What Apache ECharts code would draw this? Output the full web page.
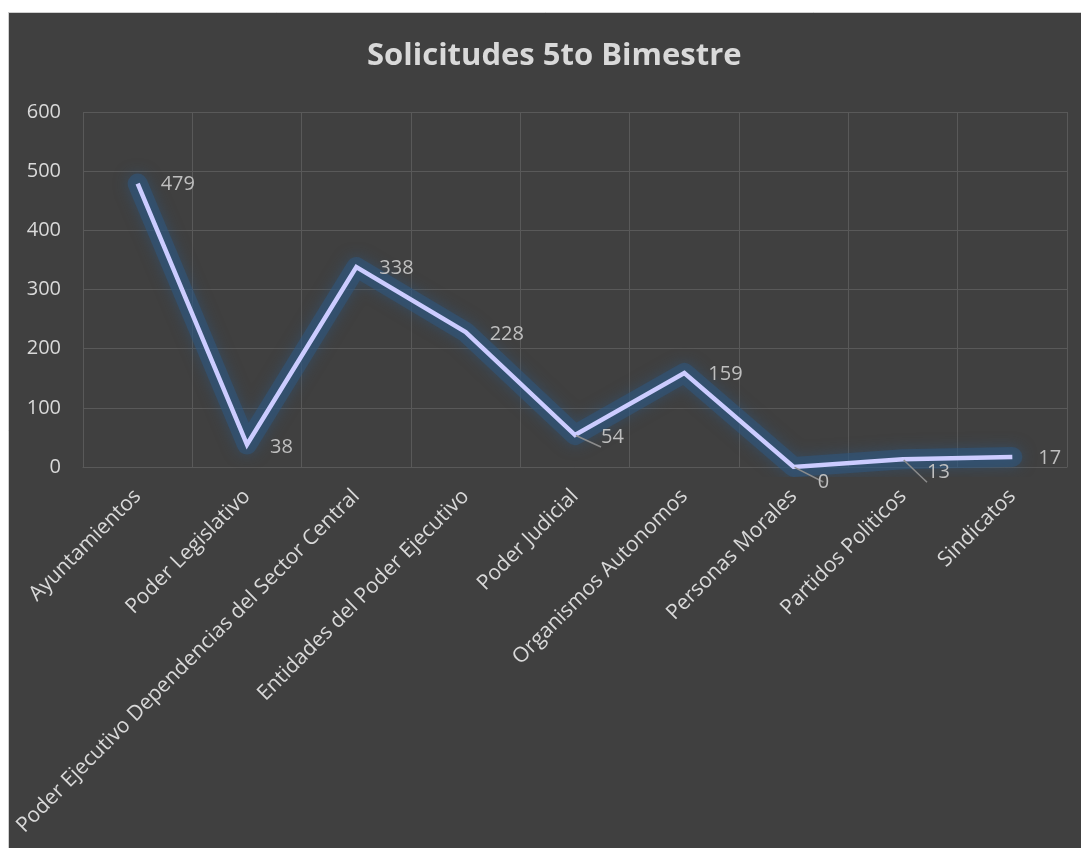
<!DOCTYPE html>
<html><head><meta charset="utf-8">
<script src="https://cdn.jsdelivr.net/npm/echarts@6/dist/echarts.min.js"></script>
<style>html,body{margin:0;padding:0;background:#fff;}#c{width:1081px;height:848px;}</style>
</head><body><div id="c"></div>
<script>
const titleText = 'Solicitudes 5to Bimestre';
const categories = ['Ayuntamientos','Poder Legislativo','Poder Ejecutivo Dependencias del Sector Central','Entidades del Poder Ejecutivo','Poder Judicial','Organismos Autonomos','Personas Morales','Partidos Politicos','Sindicatos'];
const values = [479, 38, 338, 228, 54, 159, 0, 13, 17];
const yTicks = [0, 100, 200, 300, 400, 500, 600];

// label placement styles (offset from each point) and leader-line flags
const labelOffsets = [[17,1],[17,3],[17,1],[18,2],[20,2],[18,1],[18,15],[18,13],[20,1]];
const leader = [false,false,false,false,true,false,true,true,false];

const FONT = '"Open Sans", sans-serif';
const chart = echarts.init(document.getElementById('c'), null, {renderer:'canvas'});
const data = values.map((v,i)=>({
  value: v,
  label: {show:true, position:'right', offset: labelOffsets[i]},
  labelLine: {show: leader[i], lineStyle:{color:'#8c8c8c', width:1.5}}
}));
chart.setOption({
  backgroundColor: 'transparent',
  animation: false,
  graphic: [{type:'rect', z:-10, silent:true, shape:{x:8.5,y:12.5,width:1100,height:900},
    style:{fill:'#404040', stroke:'#cfcfcf', lineWidth:1}}],
  title: {text: titleText, left: 362, top: 36,
    textStyle:{color:'#d9d9d9', fontFamily: FONT, fontWeight:'bold', fontSize:31}},
  grid: {left:83, right:14, top:112, bottom:381, containLabel:false},
  xAxis: {type:'category', data: categories, boundaryGap:true,
    axisLine:{show:true, lineStyle:{color:'#595959', width:1}},
    axisTick:{show:false},
    splitLine:{show:true, lineStyle:{color:'#595959', width:1}},
    axisLabel:{rotate:45, interval:0, margin:26, color:'#d9d9d9', fontFamily:FONT, fontSize:21}},
  yAxis: {type:'value', min:yTicks[0], max:yTicks[yTicks.length-1], interval:100,
    axisLine:{show:false}, axisTick:{show:false},
    splitLine:{show:true, lineStyle:{color:'#595959', width:1}},
    axisLabel:{margin:22, color:'#d9d9d9', fontFamily:FONT, fontSize:20}},
  series: [
    {type:'line', data: values, symbol:'none', silent:true, z:1,
      lineStyle:{color:'rgba(45,88,130,0.5)', width:20, cap:'round', join:'round',
        shadowBlur:14, shadowColor:'rgba(45,88,130,1)'}},
    {type:'line', data: data, symbol:'circle', symbolSize:2, showSymbol:true, z:3,
      itemStyle:{color:'rgba(0,0,0,0)', borderWidth:0},
      lineStyle:{color:'#ccccff', width:4.5, join:'miter'},
      label:{color:'#bfbfbf', fontFamily:FONT, fontSize:20}
    }]
});
</script></body></html>
